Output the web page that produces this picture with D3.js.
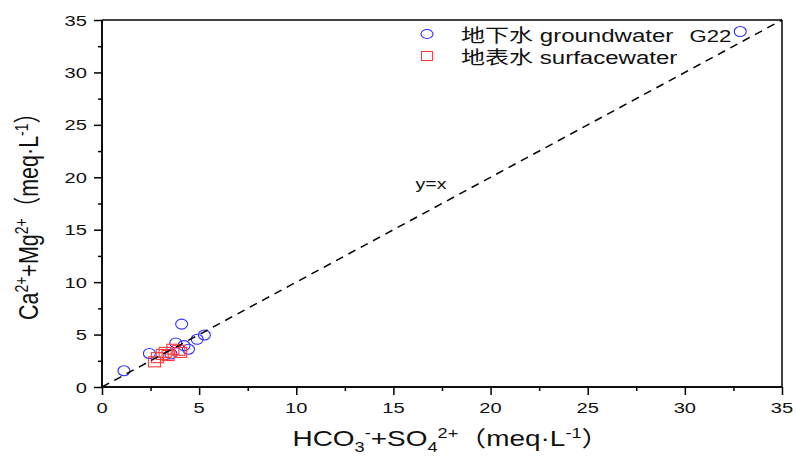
<!DOCTYPE html>
<html>
<head>
<meta charset="utf-8">
<script src="https://cdn.jsdelivr.net/npm/d3@7"></script>
<style>
  html, body { margin: 0; padding: 0; background: #fff; }
  svg { display: block; }
  text { font-family: "Liberation Sans", Arial, "Noto Sans CJK SC", sans-serif; fill: #111; }
</style>
</head>
<body>
<svg id="chart" width="796" height="456"></svg>
<script>
// Groundwater samples (HCO3- + SO4, Ca2+ + Mg2+), meq/L
const groundX = [1.13, 2.44, 4.10, 3.80, 4.22, 4.45, 4.90, 5.27, 3.55, 32.85];
const groundY = [1.55, 3.20, 6.00, 4.20, 3.95, 3.60, 4.55, 4.96, 3.15, 33.90];
const groundNames = ["", "", "", "", "", "", "", "", "", "G22"];

// Surface water samples
const surfX = [2.70, 2.85, 3.10, 3.25, 3.40, 3.65, 3.95, 4.05];
const surfY = [2.40, 2.80, 3.10, 3.30, 3.00, 3.60, 3.50, 3.30];

const majorTicks = [0, 5, 10, 15, 20, 25, 30, 35];
const minorTicks = [2.5, 7.5, 12.5, 17.5, 22.5, 27.5, 32.5];
const legendLabels = ["地下水 groundwater", "地表水 surfacewater"];
const refLineLabel = "y=x";

const SX = 1.3; // horizontal glyph stretch used for all text
const svg = d3.select("#chart");
const pLeft = 102, pRight = 782, pTop = 20, pBottom = 387;

const x = d3.scaleLinear().domain([0, 35]).range([pLeft, pRight]);
const y = d3.scaleLinear().domain([0, 35]).range([pBottom, pTop]);

function label(px, py, anchor, size, rot) {
  const g = svg.append("g")
    .attr("transform", `translate(${px},${py}) scale(${SX},1)` + (rot ? ` rotate(${rot})` : ""));
  return g.append("text").attr("text-anchor", anchor).attr("font-size", size);
}

// frame lines (top and right, no ticks)
svg.append("line").attr("x1", pLeft).attr("x2", pRight).attr("y1", pTop).attr("y2", pTop)
  .attr("stroke", "#000").attr("stroke-width", 1.5);
svg.append("line").attr("x1", pRight).attr("x2", pRight).attr("y1", pTop).attr("y2", pBottom)
  .attr("stroke", "#000").attr("stroke-width", 1.5);

// bottom axis
const xAxis = svg.append("g").attr("transform", `translate(0,${pBottom})`)
  .call(d3.axisBottom(x).tickValues(majorTicks).tickSize(8).tickFormat(""));
const xMinor = svg.append("g").attr("transform", `translate(0,${pBottom})`)
  .call(d3.axisBottom(x).tickValues(minorTicks).tickSize(4).tickFormat(""));
// left axis
const yAxis = svg.append("g").attr("transform", `translate(${pLeft},0)`)
  .call(d3.axisLeft(y).tickValues(majorTicks).tickSize(8).tickFormat(""));
const yMinor = svg.append("g").attr("transform", `translate(${pLeft},0)`)
  .call(d3.axisLeft(y).tickValues(minorTicks).tickSize(4).tickFormat(""));
[xAxis, xMinor, yAxis, yMinor].forEach(a => {
  a.selectAll("path").attr("stroke", "#000").attr("stroke-width", 1.5);
  a.selectAll("line").attr("stroke", "#000").attr("stroke-width", 1.5);
  a.select(".domain").attr("d", a === xAxis || a === xMinor
    ? `M${pLeft},0H${pRight}` : `M0,${pBottom}V${pTop}`);
});

// tick labels
majorTicks.forEach(v => {
  label(x(v), 413, "middle", 15.5).text(v);
  label(87, y(v) + 5.5, "end", 15.5).text(v);
});

// axis titles
const xt = label(451, 446, "middle", 21.5);
xt.append("tspan").text("HCO");
xt.append("tspan").attr("font-size", 14).attr("dy", 6).text("3");
xt.append("tspan").attr("font-size", 14).attr("dy", -14).text("-");
xt.append("tspan").attr("dy", 8).text("+SO");
xt.append("tspan").attr("font-size", 14).attr("dy", 6).text("4");
xt.append("tspan").attr("font-size", 14).attr("dy", -14).text("2+");
xt.append("tspan").attr("dy", 8).text("（meq·L");
xt.append("tspan").attr("font-size", 14).attr("dy", -8).text("-1");
xt.append("tspan").attr("dy", 8).text("）");

const yt = label(38, 211, "middle", 21.5, -90);
yt.append("tspan").text("Ca");
yt.append("tspan").attr("font-size", 14).attr("dy", -8).text("2+");
yt.append("tspan").attr("dy", 8).text("+Mg");
yt.append("tspan").attr("font-size", 14).attr("dy", -8).text("2+");
yt.append("tspan").attr("dy", 8).text("（meq·L");
yt.append("tspan").attr("font-size", 14).attr("dy", -8).text("-1");
yt.append("tspan").attr("dy", 8).text("）");

const blue = "#2b2bff", red = "#ff3a3a";

// groundwater markers
svg.append("g").selectAll("ellipse").data(groundX.map((d, i) => [d, groundY[i]]))
  .join("ellipse")
  .attr("cx", d => x(d[0])).attr("cy", d => y(d[1]))
  .attr("rx", 6).attr("ry", 5)
  .attr("fill", "none").attr("stroke", blue).attr("stroke-width", 1.1);

// surface water markers
svg.append("g").selectAll("rect").data(surfX.map((d, i) => [d, surfY[i]]))
  .join("rect")
  .attr("x", d => x(d[0]) - 6).attr("y", d => y(d[1]) - 5)
  .attr("width", 12).attr("height", 10)
  .attr("fill", "none").attr("stroke", red).attr("stroke-width", 1.1);

// 1:1 reference line
svg.append("line")
  .attr("x1", x(0)).attr("y1", y(0)).attr("x2", x(35)).attr("y2", y(35))
  .attr("stroke", "#000").attr("stroke-width", 1.5).attr("stroke-dasharray", "8,6");
label(431, 189, "middle", 15).text(refLineLabel);

// sample name
groundNames.forEach((n, i) => {
  if (n) label(x(groundX[i]) - 9, 42, "end", 17).text(n);
});

// legend
svg.append("ellipse").attr("cx", 427).attr("cy", 34).attr("rx", 6).attr("ry", 4.5)
  .attr("fill", "none").attr("stroke", blue).attr("stroke-width", 1.1);
svg.append("rect").attr("x", 421.5).attr("y", 51.5).attr("width", 11).attr("height", 9)
  .attr("fill", "none").attr("stroke", red).attr("stroke-width", 1.1);
label(461, 42, "start", 18.5).text(legendLabels[0]);
label(461, 64, "start", 18.5).text(legendLabels[1]);
</script>
</body>
</html>
